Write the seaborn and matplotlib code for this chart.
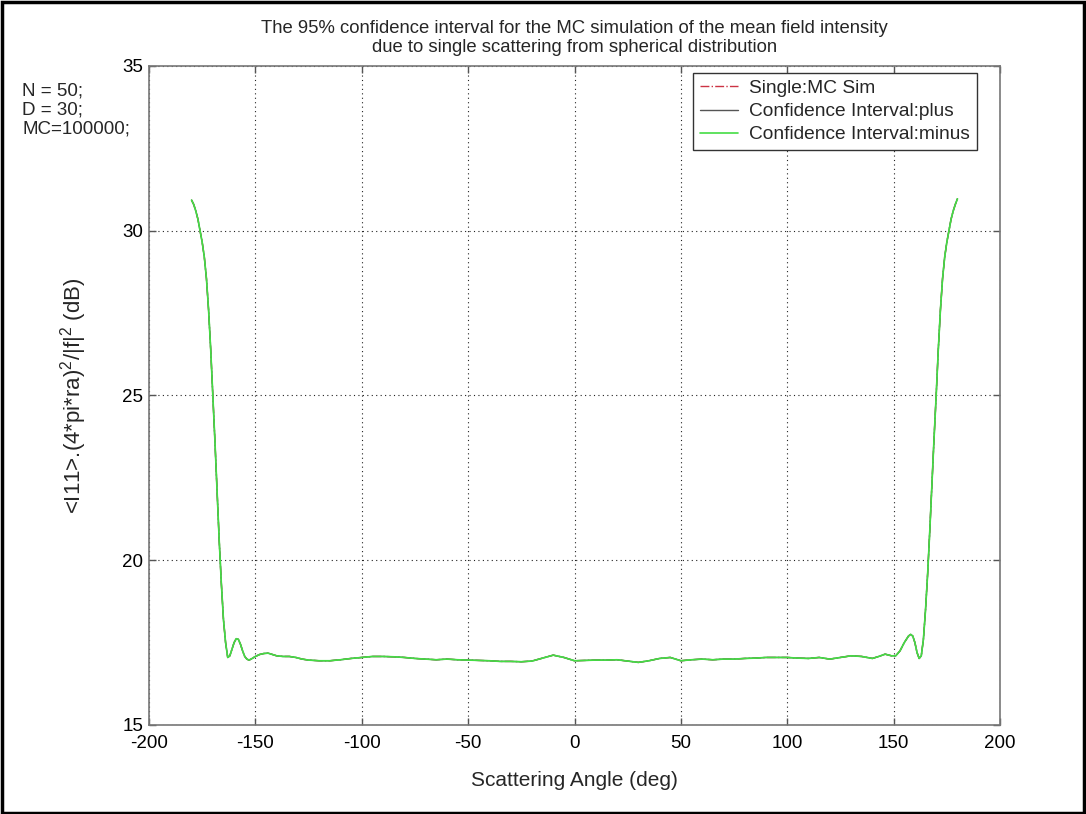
import matplotlib
matplotlib.use("Agg")
import matplotlib.pyplot as plt
import seaborn as sns
import pandas as pd
from matplotlib.patches import Rectangle

# ---- data ----
angle = [-180, -179, -178, -177, -176, -175, -174, -173, -172, -171, -170, -169, -168,
         -167, -166, -165, -164, -163, -162, -161, -160, -159, -158, -157, -156, -155,
         -154, -153, -152, -150, -148, -146, -144, -142, -140, -137, -134, -131, -128,
         -125, -120, -115, -110, -105, -100, -95, -90, -85, -80, -75, -70, -65, -60,
         -55, -50, -45, -40, -35, -30, -25, -20, -15, -10, -5, 0, 5, 10, 15, 20, 25,
         30, 35, 40, 45, 50, 55, 60, 65, 70, 75, 80, 85, 90, 95, 100, 105, 110, 115,
         120, 125, 130, 135, 140, 143, 146, 149, 151, 153, 155, 157, 158, 159, 160,
         161, 162, 163, 164, 165, 166, 167, 168, 169, 170, 171, 172, 173, 174, 175,
         176, 177, 178, 179, 180]
intensity_db = [30.93, 30.8, 30.6, 30.35, 30.0, 29.65, 29.2, 28.55, 27.6, 26.4, 25.0, 23.6,
                22.1, 20.6, 19.3, 18.2, 17.5, 17.05, 17.1, 17.3, 17.5, 17.62, 17.6, 17.45,
                17.25, 17.08, 17.0, 16.97, 17.0, 17.08, 17.14, 17.17, 17.18, 17.14, 17.1,
                17.08, 17.08, 17.05, 17.0, 16.97, 16.95, 16.95, 16.98, 17.02, 17.05, 17.08,
                17.08, 17.07, 17.05, 17.02, 17.0, 16.98, 17.0, 16.98, 16.97, 16.96, 16.95,
                16.93, 16.93, 16.92, 16.94, 17.03, 17.12, 17.05, 16.95, 16.96, 16.97,
                16.97, 16.98, 16.94, 16.9, 16.95, 17.02, 17.05, 16.95, 16.98, 17.0, 16.98,
                17.0, 17.0, 17.02, 17.03, 17.05, 17.05, 17.05, 17.03, 17.02, 17.05, 17.0,
                17.05, 17.1, 17.08, 17.02, 17.08, 17.15, 17.1, 17.1, 17.25, 17.5, 17.7,
                17.75, 17.7, 17.5, 17.2, 17.02, 17.1, 17.6, 18.5, 19.6, 20.9, 22.3, 23.7,
                25.0, 26.4, 27.6, 28.55, 29.2, 29.65, 30.0, 30.35, 30.6, 30.8, 30.97]
# the three curves coincide on the picture (only the green one is visible)
mc_sim = intensity_db
ci_plus = intensity_db
ci_minus = intensity_db

series_names = ["Single:MC Sim", "Confidence Interval:plus", "Confidence Interval:minus"]
x_ticks = [-200, -150, -100, -50, 0, 50, 100, 150, 200]
y_ticks = [15, 20, 25, 30, 35]
title = ("The 95% confidence interval for the MC simulation of the mean field intensity\n"
         "due to single scattering from spherical distribution")
side_notes = ["N = 50;", "D = 30;", "MC=100000;"]

# ---- style ----
sns.set_style("ticks")
plt.rcParams["font.family"] = ["Liberation Sans", "DejaVu Sans"]
plt.rcParams["mathtext.fontset"] = "custom"
plt.rcParams["mathtext.rm"] = "Liberation Sans"
plt.rcParams["mathtext.it"] = "Liberation Sans"

fig = plt.figure(figsize=(10.86, 8.14), dpi=100)
ax = fig.add_axes([149 / 1086, 1 - 725 / 814, (1000 - 149) / 1086, (725 - 66) / 814])

df = pd.DataFrame({"angle": angle, "mc": mc_sim, "plus": ci_plus, "minus": ci_minus})
sns.lineplot(data=df, x="angle", y="mc", ax=ax, color="#cc3344", linestyle="-.",
             linewidth=1.0, label=series_names[0], estimator=None, sort=False)
sns.lineplot(data=df, x="angle", y="plus", ax=ax, color="#555555", linestyle="-",
             linewidth=1.0, label=series_names[1], estimator=None, sort=False)
sns.lineplot(data=df, x="angle", y="minus", ax=ax, color="#44dd44", linestyle="-",
             linewidth=1.2, label=series_names[2], estimator=None, sort=False)

ax.set_xlim(-200, 200)
ax.set_ylim(15, 35)
ax.set_xticks(x_ticks)
ax.set_yticks(y_ticks)
ax.set_xticklabels([str(t) for t in x_ticks])
ax.set_yticklabels([str(t) for t in y_ticks])
ax.tick_params(direction="in", length=5, width=1, colors="#555555", labelcolor="black",
               labelsize=13.5, top=True, right=True)
ax.tick_params(axis="x", pad=7)
ax.tick_params(axis="y", pad=4)
for s in ax.spines.values():
    s.set_color("#777777")
    s.set_linewidth(1.2)
ax.grid(True, color="#222222", linestyle=(0, (1, 3)), linewidth=0.8)

ax.set_xlabel("Scattering Angle (deg)", fontsize=15, labelpad=14)
ax.set_ylabel(r"<I11>.(4*pi*ra)$^2$/|f|$^2$ (dB)", fontsize=16, labelpad=24)
ax.set_title(title, fontsize=13.3, pad=10, linespacing=1.15)

leg = ax.legend(loc="upper right", bbox_to_anchor=((977 - 149) / 851, 1 - 7 / 659),
                borderaxespad=0, fontsize=13.8, frameon=True, fancybox=False,
                edgecolor="#333333", framealpha=1, handlelength=2.0,
                labelspacing=0.3, borderpad=0.35, handletextpad=0.6)
leg.get_frame().set_linewidth(1.0)

for i, note in enumerate(side_notes):
    fig.text(22 / 1086, 1 - (91 + i * 19) / 814, note, fontsize=13.5, va="center", ha="left")

fig.patches.append(Rectangle((0.0015, 0.001), 0.997, 0.997, transform=fig.transFigure,
                             fill=False, edgecolor="black", linewidth=2.5))

fig.savefig("out.png", dpi=100)
